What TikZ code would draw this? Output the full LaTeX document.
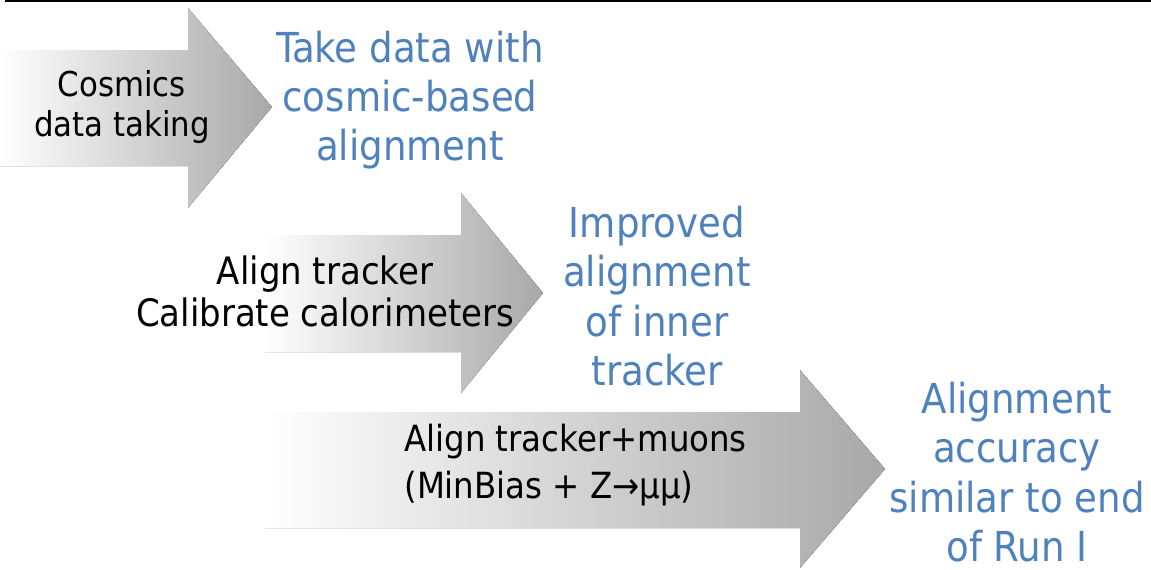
\documentclass[tikz,border=0pt]{standalone}
\usepackage{fontspec}
\setmainfont{DejaVu Sans Condensed}
\usetikzlibrary{positioning}
\definecolor{resblue}{RGB}{79,129,189}
\definecolor{arrowgray}{RGB}{168,168,168}
\tikzset{
  flowarrow/.style={shading=axis, left color=white, right color=arrowgray, draw=none},
  actiontext/.style={align=center, font=\fontsize{19.5}{23}\selectfont, text=black, inner sep=0pt},
  resulttext/.style={align=center, font=\fontsize{23.5}{28}\selectfont, text=resblue, inner sep=0pt},
}
\begin{document}
\begin{tikzpicture}[x=0.02cm,y=-0.02cm]
  \useasboundingbox (0,0) rectangle (1151,569);
  \draw[line width=1.7pt] (5,1) -- (1151,1);
  % arrows
  \fill[flowarrow] (0,50) -- (188,50) -- (188,8) -- (272,107) -- (188,208) -- (188,166) -- (0,166) -- cycle;
  \fill[flowarrow] (265,235) -- (461,235) -- (461,193) -- (543,293) -- (461,393) -- (461,352) -- (265,352) -- cycle;
  \fill[flowarrow] (265,412) -- (800,412) -- (800,370) -- (885,469) -- (800,568) -- (800,528) -- (265,528) -- cycle;
  % texts
  \node[actiontext] (cosmics) at (122,107) {Cosmics\\data taking};
  \node[resulttext] (takedata) at (410,100) {Take data with\\cosmic-based\\alignment};
  \node[actiontext, font=\fontsize{21.5}{24}\selectfont] (aligntrk) at (325,291) {Align tracker\\Calibrate calorimeters};
  \node[resulttext] (improved) at (657,296) {Improved\\alignment\\of inner\\tracker};
  \node[actiontext, anchor=west, align=left, font=\fontsize{20.5}{27}\selectfont] (alignmu) at (404,465) {Align tracker+muons\\(MinBias + Z→μμ)};
  \node[resulttext] (accuracy) at (1017,472) {Alignment\\accuracy\\similar to end\\of Run I};
\end{tikzpicture}
\end{document}
